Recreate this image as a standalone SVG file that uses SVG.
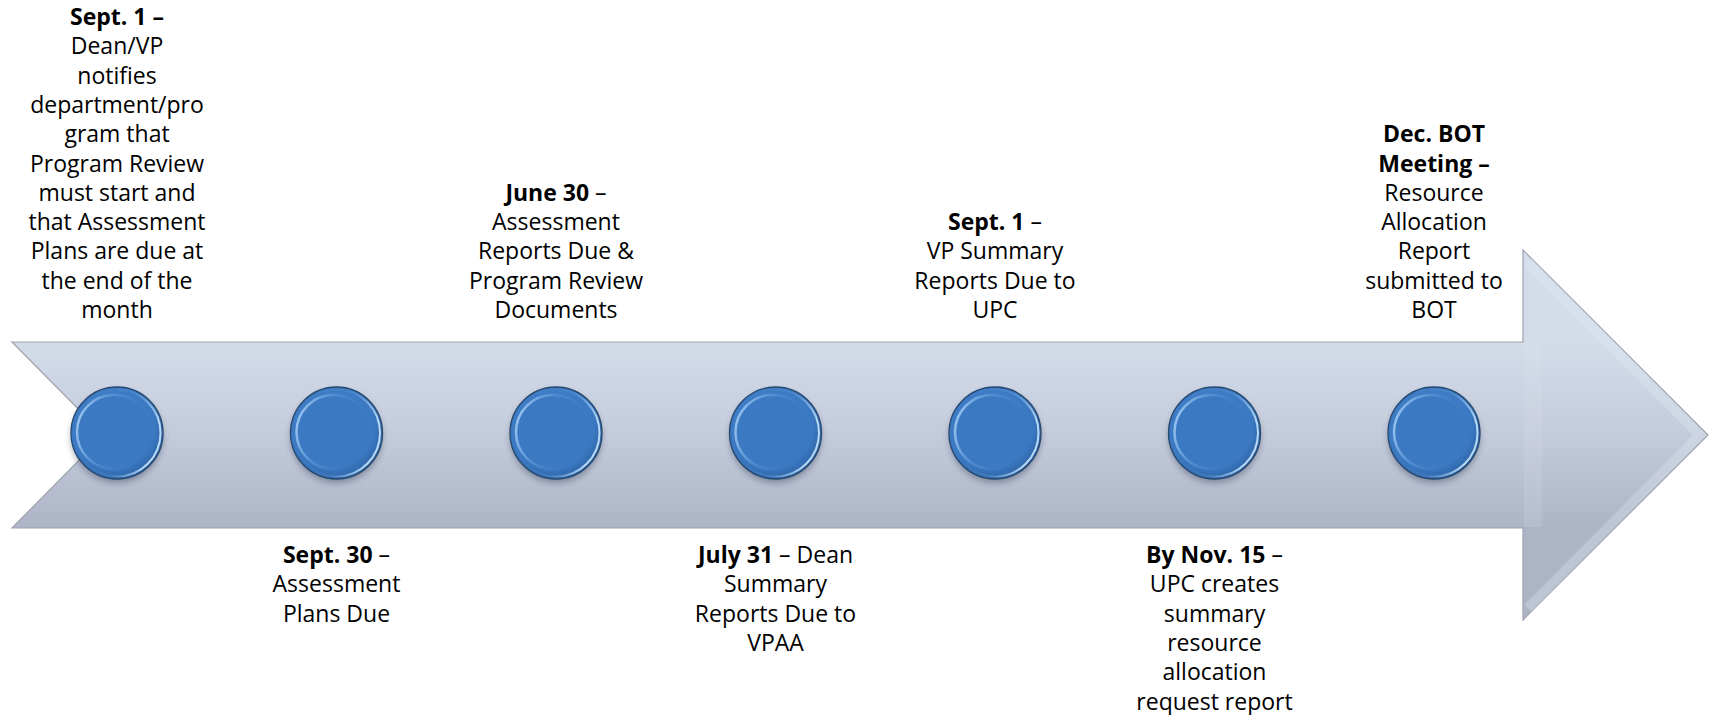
<svg xmlns="http://www.w3.org/2000/svg" xmlns:xlink="http://www.w3.org/1999/xlink" width="1712" height="715" viewBox="0 0 1712 715">
<style>
  text { font-family: "Open Sans", "Noto Sans", sans-serif; font-size: 23px; fill: #000; text-anchor: middle; }
  .b { font-weight: bold; }
</style>
<defs>
  <linearGradient id="arrowFill" gradientUnits="userSpaceOnUse" x1="0" y1="342" x2="0" y2="528">
    <stop offset="0" stop-color="#d4dcea"/>
    <stop offset="0.5" stop-color="#c4cbdb"/>
    <stop offset="1" stop-color="#acb4c6"/>
  </linearGradient>
  <radialGradient id="disc" cx="0.45" cy="0.42" r="0.62">
    <stop offset="0" stop-color="#4a8bd3"/>
    <stop offset="0.75" stop-color="#3a78c1"/>
    <stop offset="1" stop-color="#2b5f9f"/>
  </radialGradient>
  <linearGradient id="rimL" x1="0" y1="0" x2="1" y2="0.3">
    <stop offset="0" stop-color="#b0d6fa" stop-opacity="1"/>
    <stop offset="0.45" stop-color="#7fb3ea" stop-opacity="0.35"/>
    <stop offset="1" stop-color="#3a78c1" stop-opacity="0"/>
  </linearGradient>
  <linearGradient id="rimR" x1="1" y1="0.3" x2="0" y2="0">
    <stop offset="0" stop-color="#bfe0fb" stop-opacity="0.95"/>
    <stop offset="0.35" stop-color="#7fb3ea" stop-opacity="0.2"/>
    <stop offset="1" stop-color="#3a78c1" stop-opacity="0"/>
  </linearGradient>
  <filter id="shadow" x="-30%" y="-30%" width="160%" height="160%">
    <feGaussianBlur stdDeviation="3"/>
  </filter>
  <g id="bead">
    <circle cx="0" cy="4" r="46" fill="#3a4a60" opacity="0.45" filter="url(#shadow)"/>
    <circle cx="0" cy="0" r="46" fill="url(#disc)" stroke="#27496f" stroke-width="1.3"/>
    <circle cx="-3" cy="-1" r="37" fill="#3b79c2" stroke="url(#rimL)" stroke-width="2.5"/>
    <circle cx="0" cy="0" r="43.5" fill="none" stroke="url(#rimR)" stroke-width="2"/>
  </g>
</defs>

<g id="timeline-arrow">
  <path d="M12,342 H1523 V250 L1708,435 L1523,620 V528 H12 L104,435 Z" fill="url(#arrowFill)" stroke="#9ea3ad" stroke-width="1.2"/>
  <path d="M1528,262 L1700,435 L1528,608" fill="none" stroke="#e6ebf4" stroke-opacity="0.3" stroke-width="10"/>
  <rect x="1524" y="343" width="18" height="184" fill="#dfe5f0" opacity="0.18"/>
</g>

<g id="connectors"></g>

<g id="node1">
  <use xlink:href="#bead" x="117" y="433"/>
  <text x="117" y="25" class="b">Sept. 1 –</text>
  <text x="117" y="54.3">Dean/VP</text>
  <text x="117" y="83.6">notifies</text>
  <text x="117" y="112.9">department/pro</text>
  <text x="117" y="142.2">gram that</text>
  <text x="117" y="171.5">Program Review</text>
  <text x="117" y="200.8">must start and</text>
  <text x="117" y="230.1">that Assessment</text>
  <text x="117" y="259.4">Plans are due at</text>
  <text x="117" y="288.7">the end of the</text>
  <text x="117" y="318">month</text>
</g>

<g id="node2">
  <use xlink:href="#bead" x="336.5" y="433"/>
  <text x="336.5" y="563"><tspan class="b">Sept. 30</tspan> –</text>
  <text x="336.5" y="592.3">Assessment</text>
  <text x="336.5" y="621.6">Plans Due</text>
</g>

<g id="node3">
  <use xlink:href="#bead" x="556" y="433"/>
  <text x="556" y="200.8"><tspan class="b">June 30</tspan> –</text>
  <text x="556" y="230.1">Assessment</text>
  <text x="556" y="259.4">Reports Due &amp;</text>
  <text x="556" y="288.7">Program Review</text>
  <text x="556" y="318">Documents</text>
</g>

<g id="node4">
  <use xlink:href="#bead" x="775.5" y="433"/>
  <text x="775.5" y="563"><tspan class="b">July 31</tspan> – Dean</text>
  <text x="775.5" y="592.3">Summary</text>
  <text x="775.5" y="621.6">Reports Due to</text>
  <text x="775.5" y="650.9">VPAA</text>
</g>

<g id="node5">
  <use xlink:href="#bead" x="995" y="433"/>
  <text x="995" y="230.1"><tspan class="b">Sept. 1</tspan> –</text>
  <text x="995" y="259.4">VP Summary</text>
  <text x="995" y="288.7">Reports Due to</text>
  <text x="995" y="318">UPC</text>
</g>

<g id="node6">
  <use xlink:href="#bead" x="1214.5" y="433"/>
  <text x="1214.5" y="563"><tspan class="b">By Nov. 15</tspan> –</text>
  <text x="1214.5" y="592.3">UPC creates</text>
  <text x="1214.5" y="621.6">summary</text>
  <text x="1214.5" y="650.9">resource</text>
  <text x="1214.5" y="680.2">allocation</text>
  <text x="1214.5" y="709.5">request report</text>
</g>

<g id="node7">
  <use xlink:href="#bead" x="1434" y="433"/>
  <text x="1434" y="142.2" class="b">Dec. BOT</text>
  <text x="1434" y="171.5" class="b">Meeting –</text>
  <text x="1434" y="200.8">Resource</text>
  <text x="1434" y="230.1">Allocation</text>
  <text x="1434" y="259.4">Report</text>
  <text x="1434" y="288.7">submitted to</text>
  <text x="1434" y="318">BOT</text>
</g>
</svg>
